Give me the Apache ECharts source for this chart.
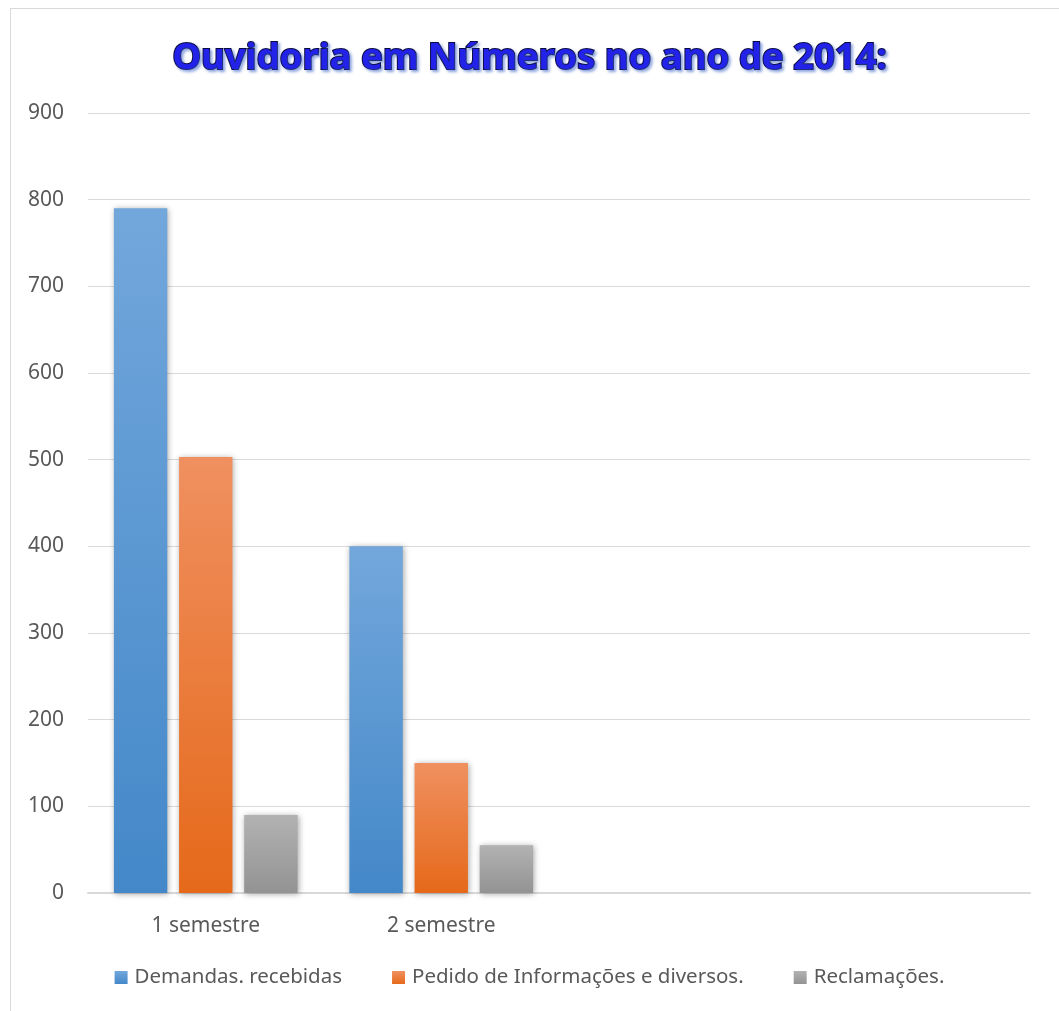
<!DOCTYPE html>
<html>
<head>
<meta charset="utf-8">
<script src="https://cdn.jsdelivr.net/npm/echarts@6/dist/echarts.min.js"></script>
<style>
  html, body { margin: 0; padding: 0; background: #fff; }
  #frame { position: absolute; left: 10px; top: 8px; width: 1080px; height: 1040px; border: 1px solid #d9d9d9; }
  #chart { position: absolute; left: 0; top: 0; width: 1059px; height: 1011px; }
</style>
</head>
<body>
<div id="frame"></div>
<div id="chart"></div>
<script>
const categories = ["1 semestre", "2 semestre", "", ""];
const demandas = [790, 400];
const pedidos = [503, 150];
const reclamacoes = [90, 55];
const yTicks = { min: 0, max: 900, interval: 100 };

const grad = (top, bottom) => new echarts.graphic.LinearGradient(0, 0, 0, 1, [
  { offset: 0, color: top },
  { offset: 1, color: bottom }
]);

const barStyle = (top, bottom) => ({
  color: grad(top, bottom),
  shadowColor: "rgba(0,0,0,0.35)",
  shadowBlur: 6,
  shadowOffsetX: 1,
  shadowOffsetY: 1
});

const chart = echarts.init(document.getElementById("chart"));

const options = {
  animation: false,
  title: {
    text: "Ouvidoria em Números no ano de 2014:",
    left: "center",
    top: 35,
    textStyle: {
      fontFamily: "Liberation Sans Narrow, Noto Sans, sans-serif",
      fontWeight: "bold",
      fontSize: 36.5,
      color: "#2222e8",
      textBorderColor: "#0a0a40",
      textBorderWidth: 2,
      textShadowColor: "rgba(60,100,200,0.5)",
      textShadowBlur: 3,
      textShadowOffsetX: 2,
      textShadowOffsetY: 2
    }
  },
  grid: { left: 88, right: 29, top: 113, bottom: 118 },
  legend: {
    bottom: 18,
    left: "center",
    itemWidth: 13,
    itemHeight: 13,
    itemGap: 50,
    icon: "rect",
    textStyle: { fontFamily: "Noto Sans", fontSize: 20.5, color: "#595959", padding: [0, 0, 0, 2] },
    data: ["Demandas. recebidas", "Pedido de Informações e diversos.", "Reclamações."]
  },
  xAxis: {
    type: "category",
    data: categories,
    axisLine: { lineStyle: { color: "#d9d9d9", width: 2 } },
    axisTick: { show: false },
    axisLabel: { fontFamily: "Noto Sans", fontSize: 21, color: "#595959", margin: 23 }
  },
  yAxis: {
    type: "value",
    min: yTicks.min,
    max: yTicks.max,
    interval: yTicks.interval,
    axisLine: { show: false },
    axisTick: { show: false },
    splitLine: { lineStyle: { color: "#d9d9d9", width: 1 } },
    axisLabel: { fontFamily: "Noto Sans", fontSize: 21, color: "#595959", margin: 24 }
  },
  series: [
    {
      name: "Demandas. recebidas",
      type: "bar",
      data: demandas,
      barGap: "22%",
      barCategoryGap: "22%",
      itemStyle: barStyle("#72a7db", "#4488c9")
    },
    {
      name: "Pedido de Informações e diversos.",
      type: "bar",
      data: pedidos,
      itemStyle: barStyle("#f09060", "#e5691a")
    },
    {
      name: "Reclamações.",
      type: "bar",
      data: reclamacoes,
      itemStyle: barStyle("#b2b2b2", "#939393")
    }
  ]
};

chart.setOption(options);
</script>
</body>
</html>
